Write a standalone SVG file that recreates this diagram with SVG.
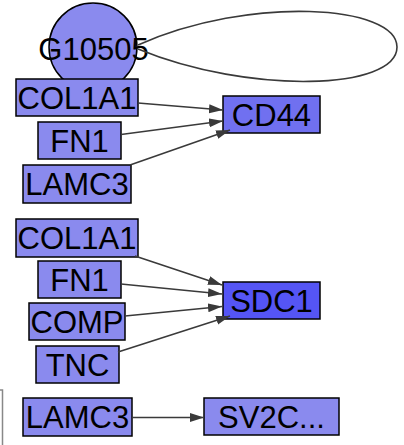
<svg xmlns="http://www.w3.org/2000/svg" width="404" height="445" viewBox="0 0 404 445">
<style>
.n{fill:#8a8aee;stroke:#000;stroke-width:1.5}
.cd{fill:#7070f0}
.sd{fill:#5555f5}
.t{font-family:"Liberation Sans",Arial,sans-serif;font-size:31px;fill:#000;text-anchor:middle}
.e{fill:none;stroke:#3a3a3a;stroke-width:1.6}
</style>
<defs>
<marker id="ah" markerUnits="userSpaceOnUse" markerWidth="16" markerHeight="10" refX="14" refY="4.5" orient="auto">
<path d="M0,0 L14,4.5 L0,9 z" fill="#3a3a3a"/>
</marker>
</defs>
<path d="M0,390 H2.5 V445" fill="none" stroke="#888" stroke-width="1.5"/>
<g id="G10505"><circle class="n" cx="93" cy="47" r="44"/><text class="t" x="93.5" y="59.5">G10505</text></g>
<g id="COL1A1_a"><rect class="n" x="16" y="79" width="122" height="37"/><text class="t" x="77" y="108.5">COL1A1</text></g>
<g id="FN1_a"><rect class="n" x="38" y="122" width="83" height="37"/><text class="t" x="79.5" y="151.5">FN1</text></g>
<g id="LAMC3_a"><rect class="n" x="23" y="165" width="108" height="38"/><text class="t" x="77" y="195">LAMC3</text></g>
<g id="CD44"><rect class="n cd" x="223" y="96" width="97" height="37"/><text class="t" x="271.5" y="125.5">CD44</text></g>
<g id="COL1A1_b"><rect class="n" x="16" y="219" width="122" height="38"/><text class="t" x="77" y="249">COL1A1</text></g>
<g id="FN1_b"><rect class="n" x="38" y="261" width="83" height="37"/><text class="t" x="79.5" y="290.5">FN1</text></g>
<g id="COMP"><rect class="n" x="29" y="303" width="96" height="37"/><text class="t" x="77" y="332.5">COMP</text></g>
<g id="TNC"><rect class="n" x="36" y="346" width="83" height="37"/><text class="t" x="77.5" y="375.5">TNC</text></g>
<g id="SDC1"><rect class="n sd" x="223" y="282" width="97" height="37"/><text class="t" x="271.5" y="311.5">SDC1</text></g>
<g id="LAMC3_b"><rect class="n" x="23" y="398" width="109" height="38"/><text class="t" x="77.5" y="428">LAMC3</text></g>
<g id="SV2C"><rect class="n" x="204" y="398" width="135" height="37"/><text class="t" x="271.5" y="427.5">SV2C...</text></g>
<g id="connectors">
<path class="e" d="M138,45 C250,-5 397,5 397,47 C397,90 250,95 138,49"/>
<path class="e" marker-end="url(#ah)" d="M138,103 L223,110"/>
<path class="e" marker-end="url(#ah)" d="M121,134.5 L223,121"/>
<path class="e" marker-end="url(#ah)" d="M130,165 L230,130"/>
<path class="e" marker-end="url(#ah)" d="M135,256 L222,285"/>
<path class="e" marker-end="url(#ah)" d="M121,284 L222,294"/>
<path class="e" marker-end="url(#ah)" d="M125,316 L222,306.5"/>
<path class="e" marker-end="url(#ah)" d="M118,352 L230,316"/>
<path class="e" marker-end="url(#ah)" d="M132,417.5 L204,417.5"/>
</g>
</svg>
